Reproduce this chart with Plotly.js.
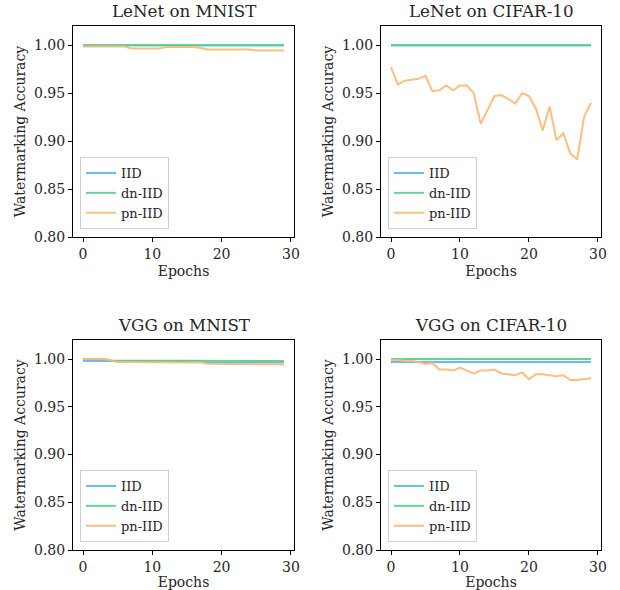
<!DOCTYPE html>
<html>
<head>
<meta charset="utf-8">
<script src="https://cdn.plot.ly/plotly-3.0.1.min.js"></script>
<style>html,body{margin:0;padding:0;background:#fff;}#chart{width:620px;height:590px;}</style>
</head>
<body>
<div id="chart"></div>
<script>
const epochs = [0,1,2,3,4,5,6,7,8,9,10,11,12,13,14,15,16,17,18,19,20,21,22,23,24,25,26,27,28,29];
const seriesNames = ["IID", "dn-IID", "pn-IID"];
const panelTitles = ["LeNet on MNIST", "LeNet on CIFAR-10", "VGG on MNIST", "VGG on CIFAR-10"];
const xTicks = [0, 10, 20, 30];
const yTicks = [0.80, 0.85, 0.90, 0.95, 1.00];

const lenetMnistIID = [1,1,1,1,1,1,1,1,1,1,1,1,1,1,1,1,1,1,1,1,1,1,1,1,1,1,1,1,1,1];
const lenetMnistDN  = [1,1,1,1,1,1,1,1,1,1,1,1,1,1,1,1,1,1,1,1,1,1,1,1,1,1,1,1,1,1];
const lenetMnistPN  = [0.9985,0.9985,0.9985,0.9985,0.9985,0.9985,0.9985,0.9965,0.9965,0.9965,0.9965,0.9965,0.998,0.998,0.998,0.998,0.998,0.997,0.9955,0.9955,0.9955,0.9955,0.9955,0.9955,0.9955,0.9945,0.9945,0.9945,0.9945,0.9945];

const lenetCifarIID = [1,1,1,1,1,1,1,1,1,1,1,1,1,1,1,1,1,1,1,1,1,1,1,1,1,1,1,1,1,1];
const lenetCifarDN  = [1,1,1,1,1,1,1,1,1,1,1,1,1,1,1,1,1,1,1,1,1,1,1,1,1,1,1,1,1,1];
const lenetCifarPN  = [0.977,0.959,0.963,0.964,0.965,0.968,0.952,0.953,0.958,0.953,0.958,0.958,0.950,0.918,0.933,0.947,0.948,0.944,0.939,0.950,0.947,0.934,0.911,0.936,0.901,0.908,0.887,0.881,0.925,0.940];

const vggMnistIID = [0.998,0.998,0.998,0.998,0.998,0.998,0.998,0.998,0.998,0.998,0.998,0.998,0.998,0.998,0.998,0.998,0.998,0.998,0.9965,0.9965,0.9965,0.9965,0.9965,0.9965,0.9965,0.9965,0.9965,0.9965,0.9965,0.9965];
const vggMnistDN  = [1,1,1,1,0.9985,0.9985,0.9985,0.9985,0.9985,0.9985,0.9985,0.9985,0.9985,0.9985,0.9985,0.9985,0.9985,0.9985,0.998,0.998,0.998,0.998,0.998,0.998,0.998,0.998,0.998,0.998,0.998,0.998];
const vggMnistPN  = [1,1,1,1,0.9985,0.997,0.997,0.997,0.997,0.997,0.997,0.997,0.997,0.997,0.997,0.997,0.997,0.9965,0.995,0.995,0.995,0.995,0.995,0.995,0.995,0.995,0.995,0.995,0.9945,0.994];

const vggCifarIID = [0.997,0.997,0.997,0.997,0.997,0.997,0.997,0.997,0.997,0.997,0.997,0.997,0.997,0.997,0.997,0.997,0.997,0.997,0.997,0.997,0.997,0.997,0.997,0.997,0.997,0.997,0.997,0.997,0.997,0.997];
const vggCifarDN  = [1,1,1,1,1,1,1,1,1,1,1,1,1,1,1,1,1,1,1,1,1,1,1,1,1,1,1,1,1,1];
const vggCifarPN  = [0.999,0.999,0.998,0.998,0.997,0.995,0.996,0.989,0.989,0.988,0.991,0.988,0.985,0.988,0.988,0.989,0.985,0.984,0.983,0.986,0.979,0.984,0.984,0.983,0.982,0.983,0.978,0.978,0.979,0.980];

const panels = [
  [lenetMnistIID, lenetMnistDN, lenetMnistPN],
  [lenetCifarIID, lenetCifarDN, lenetCifarPN],
  [vggMnistIID, vggMnistDN, vggMnistPN],
  [vggCifarIID, vggCifarDN, vggCifarPN]
];

const colors = ["#5ab4f2", "#55cf8c", "#fbb874"];
const W = 620, H = 590;
const xDomPx = [[73, 294], [381, 601], [73, 294], [381, 601]];
const yDomPx = [[26, 237], [26, 237], [340, 550], [340, 550]];
const font = "DejaVu Serif";
const txt = "#262626";

const traces = [];
const layout = {
  width: W, height: H,
  margin: {l: 0, r: 0, t: 0, b: 0},
  paper_bgcolor: "#fff", plot_bgcolor: "#fff",
  font: {family: font, size: 14, color: txt},
  showlegend: true,
  annotations: []
};

panels.forEach((p, i) => {
  const n = i + 1;
  const xa = n === 1 ? "x" : "x" + n;
  const ya = n === 1 ? "y" : "y" + n;
  const lg = n === 1 ? "legend" : "legend" + n;
  p.forEach((vals, k) => {
    traces.push({
      x: epochs, y: vals, type: "scatter", mode: "lines",
      name: seriesNames[k], xaxis: xa, yaxis: ya, legend: lg,
      line: {color: colors[k], width: 2}, opacity: 0.9
    });
  });
  const xd = [xDomPx[i][0] / W, xDomPx[i][1] / W];
  const yd = [(H - yDomPx[i][1]) / H, (H - yDomPx[i][0]) / H];
  const axBase = {
    showline: true, mirror: true, linecolor: "#000", linewidth: 1,
    ticks: "outside", ticklen: 4, tickwidth: 1, tickcolor: "#000",
    showgrid: false, zeroline: false,
    tickfont: {family: font, size: 14, color: txt}
  };
  layout[n === 1 ? "xaxis" : "xaxis" + n] = Object.assign({}, axBase, {
    domain: xd, anchor: ya, range: [-1.45, 30.45],
    tickvals: xTicks, ticktext: xTicks.map(String),
    title: {text: "Epochs", font: {family: font, size: 14, color: txt}, standoff: 5}
  });
  layout[n === 1 ? "yaxis" : "yaxis" + n] = Object.assign({}, axBase, {
    domain: yd, anchor: xa, range: [0.8, 1.02],
    tickvals: yTicks, ticktext: yTicks.map(v => v.toFixed(2)),
    title: {text: "Watermarking Accuracy", font: {family: font, size: 14, color: txt}, standoff: 5}
  });
  layout[lg] = {
    x: (xDomPx[i][0] + 7) / W, y: (H - yDomPx[i][1] + 8) / H,
    xanchor: "left", yanchor: "bottom", xref: "paper", yref: "paper",
    bgcolor: "rgba(255,255,255,0.8)", bordercolor: "#d0d0d0", borderwidth: 1,
    font: {family: font, size: 13, color: txt},
    itemwidth: 30, tracegroupgap: 0
  };
  layout.annotations.push({
    text: panelTitles[i], xref: "paper", yref: "paper",
    x: (xd[0] + xd[1]) / 2, y: yd[1], xanchor: "center", yanchor: "bottom",
    yshift: 3, showarrow: false,
    font: {family: font, size: 16.7, color: txt}
  });
});

Plotly.newPlot("chart", traces, layout, {staticPlot: true, displayModeBar: false});
</script>
</body>
</html>
